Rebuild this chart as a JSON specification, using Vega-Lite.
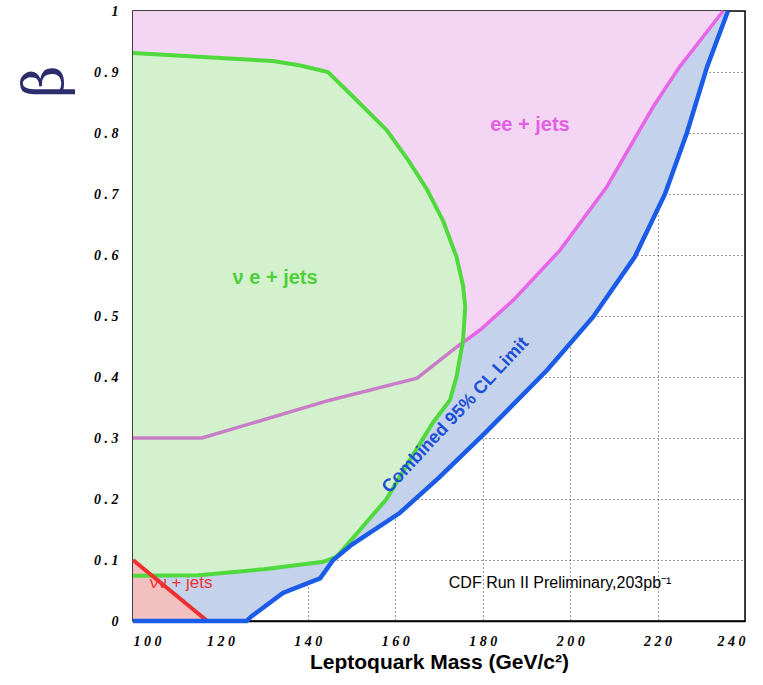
{
  "$schema": "https://vega.github.io/schema/vega-lite/v6.json",
  "width": 612,
  "height": 610,
  "autosize": {"type": "none"},
  "padding": {"left": 133, "top": 11, "right": 18, "bottom": 64},
  "background": "white",
  "config": {
    "view": {"stroke": "black", "strokeWidth": 1.5},
    "axis": {
      "grid": true, "gridDash": [1, 3], "gridColor": "#222", "gridWidth": 1, "gridOpacity": 0.9,
      "ticks": false, "zindex": 1,
      "labelFont": "Liberation Serif", "labelFontStyle": "italic", "labelFontWeight": "bold",
      "labelFontSize": 14, "labelColor": "black"
    }
  },
  "datasets": {
    "blue": [
      {"m": 100, "b": 0}, {"m": 126, "b": 0}, {"m": 127, "b": 0.007}, {"m": 134.3, "b": 0.046},
      {"m": 142.8, "b": 0.07}, {"m": 145.8, "b": 0.1}, {"m": 150, "b": 0.125}, {"m": 161, "b": 0.177},
      {"m": 170, "b": 0.235}, {"m": 180.5, "b": 0.308}, {"m": 194.7, "b": 0.411}, {"m": 205.2, "b": 0.498},
      {"m": 214.8, "b": 0.597}, {"m": 221.7, "b": 0.7}, {"m": 226.7, "b": 0.8}, {"m": 231.3, "b": 0.908},
      {"m": 236.1, "b": 1.0}
    ],
    "pink": [
      {"m": 100, "b": 0.3}, {"m": 115.8, "b": 0.3}, {"m": 145, "b": 0.362}, {"m": 165, "b": 0.398},
      {"m": 174, "b": 0.449}, {"m": 179.4, "b": 0.477}, {"m": 187, "b": 0.526}, {"m": 197.7, "b": 0.608},
      {"m": 208.4, "b": 0.712}, {"m": 219, "b": 0.843}, {"m": 225, "b": 0.908}, {"m": 235, "b": 1.0}
    ],
    "greenBand": [
      {"m": 100, "lo": 0.074, "hi": 0.931}, {"m": 115, "lo": 0.075, "hi": 0.925},
      {"m": 120, "lo": 0.078, "hi": 0.923}, {"m": 130, "lo": 0.085, "hi": 0.919},
      {"m": 138, "lo": 0.092, "hi": 0.911}, {"m": 143.5, "lo": 0.097, "hi": 0.902},
      {"m": 144.6, "lo": 0.1, "hi": 0.9}, {"m": 146.5, "lo": 0.105, "hi": 0.888},
      {"m": 151, "lo": 0.14, "hi": 0.855}, {"m": 152, "lo": 0.15, "hi": 0.848},
      {"m": 158, "lo": 0.2, "hi": 0.805}, {"m": 163, "lo": 0.26, "hi": 0.755},
      {"m": 167.3, "lo": 0.31, "hi": 0.707}, {"m": 168.6, "lo": 0.325, "hi": 0.69},
      {"m": 171, "lo": 0.345, "hi": 0.655}, {"m": 172.5, "lo": 0.362, "hi": 0.63},
      {"m": 174, "lo": 0.4, "hi": 0.597}, {"m": 175.5, "lo": 0.46, "hi": 0.55},
      {"m": 176, "lo": 0.515, "hi": 0.515}
    ],
    "green": [
      {"o": 0, "m": 100, "b": 0.931}, {"o": 1, "m": 120, "b": 0.923}, {"o": 2, "m": 132, "b": 0.918},
      {"o": 3, "m": 138, "b": 0.911}, {"o": 4, "m": 144.6, "b": 0.9}, {"o": 5, "m": 151, "b": 0.855},
      {"o": 6, "m": 158, "b": 0.805}, {"o": 7, "m": 163, "b": 0.755}, {"o": 8, "m": 167.3, "b": 0.707},
      {"o": 9, "m": 171, "b": 0.655}, {"o": 10, "m": 174, "b": 0.597}, {"o": 11, "m": 175.5, "b": 0.55},
      {"o": 12, "m": 176, "b": 0.515}, {"o": 13, "m": 175.5, "b": 0.46}, {"o": 14, "m": 174, "b": 0.4},
      {"o": 15, "m": 172.5, "b": 0.362}, {"o": 16, "m": 168.6, "b": 0.325}, {"o": 17, "m": 163, "b": 0.26},
      {"o": 18, "m": 158, "b": 0.2}, {"o": 19, "m": 152, "b": 0.15}, {"o": 20, "m": 146.5, "b": 0.105},
      {"o": 21, "m": 143.5, "b": 0.097}, {"o": 22, "m": 130, "b": 0.085}, {"o": 23, "m": 115, "b": 0.075},
      {"o": 24, "m": 100, "b": 0.074}
    ],
    "red": [{"m": 100, "b": 0.1}, {"m": 117, "b": 0}],
    "minor": [
      {"m": 105}, {"m": 110}, {"m": 115}, {"m": 120}, {"m": 125}, {"m": 130}, {"m": 135}, {"m": 140},
      {"m": 145}, {"m": 150}, {"m": 155}, {"m": 160}, {"m": 165}, {"m": 170}, {"m": 175}, {"m": 180},
      {"m": 185}, {"m": 190}, {"m": 195}, {"m": 200}, {"m": 205}, {"m": 210}, {"m": 215}, {"m": 220},
      {"m": 225}, {"m": 230}, {"m": 235}
    ]
  },
  "encoding": {
    "x": {"field": "m", "type": "quantitative", "scale": {"domain": [100, 240], "nice": false, "zero": false},
      "axis": {"values": [100, 120, 140, 160, 180, 200, 220, 240], "labelPadding": 13,
        "labelExpr": "join(split(datum.label, ''), ' ')",
        "domainColor": "black", "domainWidth": 1.5,
        "title": "Leptoquark Mass (GeV/c²)", "titleFont": "Liberation Sans", "titleFontSize": 21,
        "titleFontWeight": "bold", "titlePadding": 3, "titleColor": "black"}},
    "y": {"field": "b", "type": "quantitative", "scale": {"domain": [0, 1], "nice": false},
      "axis": {"values": [0, 0.1, 0.2, 0.3, 0.4, 0.5, 0.6, 0.7, 0.8, 0.9, 1], "format": ".1~f",
        "labelExpr": "join(split(datum.label, ''), ' ')", "labelPadding": 15, "domain": false,
        "title": "β", "titleFont": "DejaVu Serif", "titleFontSize": 56, "titleFontWeight": "normal",
        "titleColor": "#2d2d6e", "titleAngle": -90, "titleAlign": "center", "titleBaseline": "middle",
        "titleX": -88, "titleY": 70}}
  },
  "layer": [
    {"data": {"name": "blue"}, "mark": {"type": "area", "color": "#c5d2ec", "opacity": 1},
      "encoding": {"y2": {"datum": 1}}},
    {"data": {"name": "pink"}, "mark": {"type": "area", "color": "#f4d5f4", "opacity": 1},
      "encoding": {"y2": {"datum": 1}}},
    {"data": {"name": "greenBand"}, "mark": {"type": "area", "color": "#d3f1cc", "opacity": 1},
      "encoding": {"y": {"field": "lo", "type": "quantitative"}, "y2": {"field": "hi"}}},
    {"data": {"name": "red"}, "mark": {"type": "area", "color": "#f3c0c0", "opacity": 1},
      "encoding": {"y2": {"datum": 0}}},
    {"data": {"name": "pink"}, "transform": [{"filter": "datum.m <= 176"}],
      "mark": {"type": "line", "color": "#c77ec7", "strokeWidth": 3.5}, "encoding": {}},
    {"data": {"name": "pink"}, "transform": [{"filter": "datum.m >= 174"}],
      "mark": {"type": "line", "color": "#e865e8", "strokeWidth": 3.5}, "encoding": {}},
    {"mark": {"type": "rule", "color": "#e865e8", "strokeWidth": 2},
      "encoding": {"x": {"datum": 100}, "x2": {"datum": 235}, "y": {"datum": 1}}},
    {"data": {"values": [{"m": 111, "b": 0.062, "t": "νν + jets"}]},
      "mark": {"type": "text", "color": "#ee3030", "font": "Liberation Sans", "fontWeight": "normal", "fontSize": 17},
      "encoding": {"text": {"field": "t"}}},
    {"data": {"name": "green"}, "mark": {"type": "line", "color": "#4fd93c", "strokeWidth": 4},
      "encoding": {"order": {"field": "o", "type": "quantitative"}}},
    {"mark": {"type": "rule", "color": "#4fd93c", "strokeWidth": 4},
      "encoding": {"x": {"datum": 100}, "y": {"datum": 0.074}, "y2": {"datum": 0.931}}},
    {"data": {"name": "red"}, "mark": {"type": "line", "color": "#ee3030", "strokeWidth": 4}, "encoding": {}},
    {"data": {"name": "blue"}, "mark": {"type": "line", "color": "#1a5ce8", "strokeWidth": 4.5}, "encoding": {}},
    {"data": {"name": "minor"}, "mark": {"type": "rule", "color": "black", "strokeWidth": 1.2},
      "encoding": {"y": {"datum": 0}, "y2": {"datum": 0.015}}},
    {"data": {"values": [{"m": 190.8, "b": 0.813, "t": "ee + jets"}]},
      "mark": {"type": "text", "color": "#e060e0", "font": "Liberation Sans", "fontWeight": "bold", "fontSize": 20},
      "encoding": {"text": {"field": "t"}}},
    {"data": {"values": [{"m": 132.5, "b": 0.562, "t": "ν  e + jets"}]},
      "mark": {"type": "text", "color": "#4fcf3a", "font": "Liberation Sans", "fontWeight": "bold", "fontSize": 20},
      "encoding": {"text": {"field": "t"}}},
    {"data": {"values": [{"m": 173.8, "b": 0.337, "t": "Combined 95% CL Limit"}]},
      "mark": {"type": "text", "color": "#1a4fd6", "font": "Liberation Sans", "fontWeight": "bold", "fontSize": 18, "angle": -47},
      "encoding": {"text": {"field": "t"}}},
    {"data": {"values": [{"m": 197.7, "b": 0.062, "t": "CDF Run II Preliminary,203pb⁻¹"}]},
      "mark": {"type": "text", "color": "black", "font": "Liberation Sans", "fontSize": 16},
      "encoding": {"text": {"field": "t"}}}
  ]
}
